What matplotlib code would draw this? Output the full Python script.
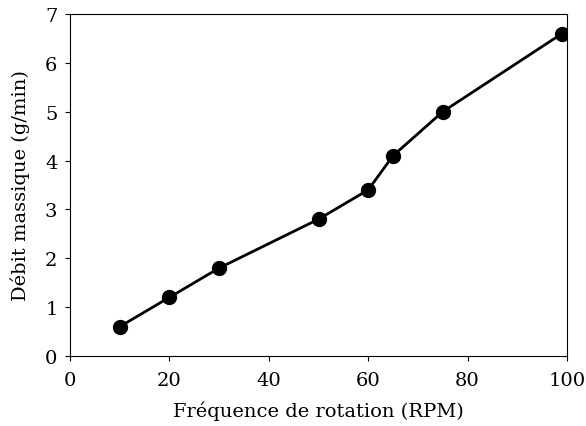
import matplotlib
matplotlib.use("Agg")
import matplotlib.pyplot as plt

plt.rcParams['font.family'] = 'serif'
plt.rcParams['font.serif'] = ['DejaVu Serif']

rpm = [10, 20, 30, 50, 60, 65, 75, 99]
debit = [0.6, 1.2, 1.8, 2.8, 3.4, 4.1, 5.0, 6.6]

fig = plt.figure(figsize=(5.86, 4.27), dpi=100)
ax = fig.add_axes([70/586, 70/427, 497/586, 342/427])
ax.plot(rpm, debit, color='black', marker='o', markersize=10, linewidth=2)
ax.set_xlim(0, 100)
ax.set_ylim(0, 7)
ax.set_xlabel('Fréquence de rotation (RPM)', fontsize=14)
ax.set_ylabel('Débit massique (g/min)', fontsize=14)
ax.tick_params(axis='x', labelsize=14, pad=7.5)
ax.tick_params(axis='y', labelsize=14, pad=5.5)
ax.xaxis.set_label_coords(0.5, -0.13)
ax.yaxis.set_label_coords(-0.08, 0.5)
fig.savefig('out.png', dpi=100)
